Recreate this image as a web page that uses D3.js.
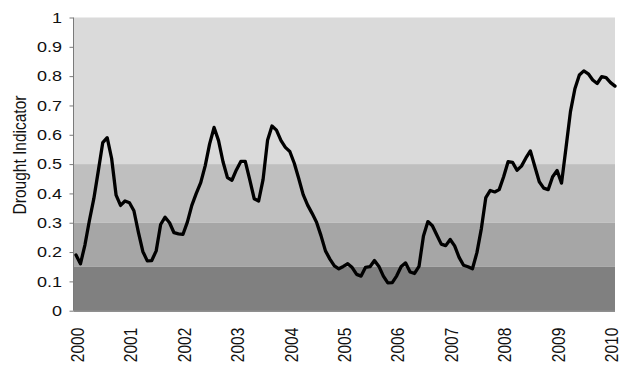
<!DOCTYPE html>
<html>
<head>
  <meta charset="UTF-8">
  <title>Drought Indicator</title>
  <script src="https://d3js.org/d3.v7.min.js"></script>
  <style>
    body { margin: 0; background: #fff; }
    text { font-family: "Liberation Sans", Arial, sans-serif; fill: #111; }
  </style>
</head>
<body>
  <script>
    // monthly values, Jan 2000 .. Feb 2010
    var values = [
      0.19, 0.16, 0.224, 0.307, 0.382, 0.476, 0.573, 0.59, 0.519, 0.394, 0.359, 0.374,
      0.368, 0.341, 0.268, 0.202, 0.17, 0.171, 0.204, 0.294, 0.319, 0.30, 0.266, 0.262,
      0.26, 0.302, 0.359, 0.40, 0.437, 0.494, 0.569, 0.625, 0.58, 0.508, 0.454, 0.445,
      0.48, 0.509, 0.509, 0.447, 0.382, 0.374, 0.448, 0.581, 0.63, 0.616, 0.581, 0.557,
      0.543, 0.503, 0.451, 0.396, 0.36, 0.332, 0.302, 0.256, 0.204, 0.176, 0.153, 0.143,
      0.151, 0.16, 0.147, 0.124, 0.118, 0.148, 0.15, 0.171, 0.151, 0.118, 0.095, 0.096,
      0.119, 0.151, 0.163, 0.132, 0.127, 0.151, 0.255, 0.304, 0.29, 0.258, 0.227, 0.222,
      0.243, 0.221, 0.182, 0.155, 0.15, 0.143, 0.198, 0.28, 0.386, 0.41, 0.405, 0.413,
      0.457, 0.508, 0.506, 0.479, 0.493, 0.521, 0.545, 0.492, 0.44, 0.418, 0.413, 0.457,
      0.478, 0.435, 0.556, 0.679, 0.757, 0.804, 0.818, 0.808, 0.787, 0.775, 0.798, 0.795,
      0.778, 0.766
    ];
    var years = ["2000", "2001", "2002", "2003", "2004", "2005", "2006", "2007", "2008", "2009", "2010"];
    var yTicks = [0, 0.1, 0.2, 0.3, 0.4, 0.5, 0.6, 0.7, 0.8, 0.9, 1];
    // background bands [from, to]
    var bands = [[0.5, 1], [0.3, 0.5], [0.15, 0.3], [0, 0.15]];
    var bandColors = ["#dadada", "#bfbfbf", "#a6a6a6", "#808080"];

    var margin = { top: 17.5, right: 11, bottom: 54.3, left: 74 };
    var width = 626 - margin.left - margin.right;
    var height = 365 - margin.top - margin.bottom;

    var svg = d3.select("body")
      .append("svg")
      .attr("width", 626)
      .attr("height", 365)
      .append("g")
      .attr("transform", "translate(" + margin.left + "," + margin.top + ")");

    var xScale = d3.scaleLinear().domain([0, values.length - 1]).range([2, width]);
    var yScale = d3.scaleLinear().domain([0, 1]).range([height, 0]);

    svg.selectAll("rect.band")
      .data(bands)
      .enter()
      .append("rect")
      .attr("class", "band")
      .attr("x", 0)
      .attr("width", width)
      .attr("y", function (d) { return yScale(d[1]); })
      .attr("height", function (d) { return yScale(d[0]) - yScale(d[1]); })
      .attr("fill", function (d, i) { return bandColors[i]; });

    var yAxis = d3.axisLeft(yScale)
      .tickValues(yTicks)
      .tickSize(4)
      .tickFormat(function (d) { return d3.format("")(d); });

    var gy = svg.append("g").attr("transform", "translate(-0.5,0)").call(yAxis);
    gy.select(".domain").attr("stroke", "#7a7a7a").attr("d", "M0," + height + "V0");
    gy.selectAll(".tick line").attr("stroke", "#7a7a7a");
    // source picture is a little wider than tall, stretch the labels
    gy.selectAll(".tick text")
      .attr("x", -9.6)
      .attr("transform", "scale(1.2,1)")
      .style("font-size", "15px")
      .attr("fill", "#111");

    // bottom axis line
    svg.append("line")
      .attr("x1", -0.5).attr("x2", width)
      .attr("y1", height + 0.5).attr("y2", height + 0.5)
      .attr("stroke", "#6a6a6a").attr("stroke-width", 1.2);

    // year labels, every 12 months
    svg.selectAll("text.year")
      .data(years)
      .enter()
      .append("text")
      .attr("class", "year")
      .attr("transform", function (d, i) {
        return "translate(" + (xScale(i * 12) + 1.5) + "," + (height + 17) + ") rotate(-90) scale(1,1.15)";
      })
      .attr("text-anchor", "end")
      .attr("dy", "0.35em")
      .style("font-size", "15.5px")
      .text(function (d) { return d; });

    var line = d3.line()
      .x(function (d, i) { return xScale(i); })
      .y(function (d) { return yScale(d); });

    svg.append("path")
      .datum(values)
      .attr("d", line)
      .attr("fill", "none")
      .attr("stroke", "#000")
      .attr("stroke-width", 3.3)
      .attr("stroke-linejoin", "round")
      .attr("stroke-linecap", "round");

    svg.append("text")
      .attr("transform", "translate(" + (20 - margin.left) + "," + (155 - margin.top) + ") rotate(-90) scale(1,1.15)")
      .attr("text-anchor", "middle")
      .attr("dy", "0.35em")
      .style("font-size", "15.5px")
      .text("Drought Indicator");
  </script>
</body>
</html>
